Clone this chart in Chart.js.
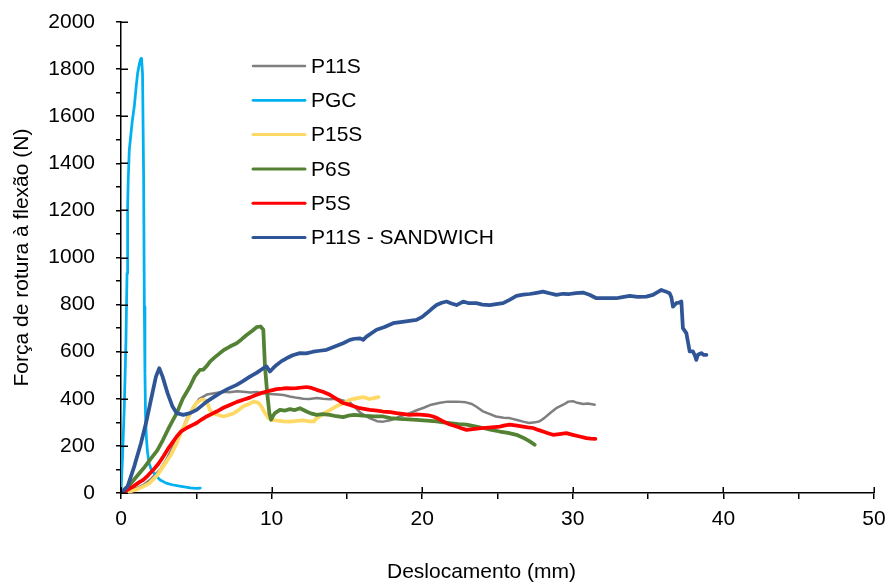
<!DOCTYPE html>
<html>
<head>
<meta charset="utf-8">
<title>Força de rotura à flexão vs deslocamento</title>
<script src="https://cdn.jsdelivr.net/npm/chart.js@4.4.1/dist/chart.umd.min.js"></script>
<style>
  html, body { margin: 0; padding: 0; background: #ffffff; }
  #wrap { width: 889px; height: 586px; }
</style>
</head>
<body>
<div id="wrap"><canvas id="chart" width="889" height="586"></canvas></div>
<script>
// Series names (legend order)
const seriesNames = ['P11S', 'PGC', 'P15S', 'P6S', 'P5S', 'P11S - SANDWICH'];

// Axis tick values
const xTicks = [0, 10, 20, 30, 40, 50];
const yTicks = [0, 200, 400, 600, 800, 1000, 1200, 1400, 1600, 1800, 2000];

// P11S — deslocamento (mm) / força (N)
const p11sX = [0, 0.5, 1.0, 1.5, 2.0, 2.6, 3.0, 3.5, 4.0, 4.4, 4.8, 5.2, 5.7, 6.3, 6.8, 7.2, 7.7, 8.1, 8.6, 9.0, 9.5, 9.9, 10.4, 10.8, 11.2, 11.7, 12.1, 12.5, 13.0, 13.4, 13.9, 14.3, 14.8, 15.2, 15.6, 15.9, 16.2, 16.5, 17.0, 17.4, 17.8, 18.1, 18.5, 19.0, 19.5, 20.1, 20.6, 21.2, 21.7, 22.3, 22.9, 23.3, 23.6, 24.0, 24.5, 24.9, 25.4, 25.8, 26.3, 26.7, 27.1, 27.5, 27.8, 28.1, 28.5, 28.9, 29.4, 29.7, 30.0, 30.3, 30.7, 31.0, 31.45];
const p11sY = [0, 8, 20, 35, 60, 100, 140, 205, 260, 320, 365, 400, 418, 425, 430, 428, 432, 430, 427, 429, 424, 420, 418, 416, 410, 404, 400, 399, 403, 400, 398, 400, 392, 385, 360, 340, 330, 318, 305, 303, 308, 313, 325, 335, 348, 362, 375, 383, 388, 388, 385, 378, 366, 348, 335, 325, 320, 318, 310, 303, 297, 300, 305, 318, 340, 360, 376, 388, 390, 383, 378, 380, 375];

// PGC
const pgcX = [0, 0.1, 0.22, 0.33, 0.40, 0.44, 0.48, 0.55, 0.62, 0.75, 0.88, 1.0, 1.10, 1.2, 1.28, 1.33, 1.37, 1.43, 1.50, 1.55, 1.59, 1.63, 1.68, 1.75, 1.85, 2.0, 2.3, 2.6, 3.0, 3.4, 3.9, 4.3, 4.6, 5.0, 5.26];
const pgcY = [0, 150, 367, 650, 933, 1215, 1329, 1456, 1500, 1580, 1640, 1720, 1781, 1815, 1838, 1845, 1840, 1781, 1357, 791, 509, 330, 240, 180, 130, 100, 75, 55, 42, 35, 29, 25, 22, 20, 21];

// P15S
const p15sX = [0, 0.5, 1.0, 1.5, 1.9, 2.4, 2.8, 3.3, 3.7, 4.0, 4.4, 4.7, 5.0, 5.3, 5.5, 5.7, 5.9, 6.1, 6.4, 6.8, 7.1, 7.5, 7.8, 8.1, 8.5, 8.8, 9.1, 9.3, 9.5, 9.8, 10.1, 10.4, 10.8, 11.2, 11.7, 12.1, 12.5, 12.8, 13.0, 13.4, 13.9, 14.3, 14.8, 15.2, 15.6, 16.1, 16.5, 16.8, 17.1];
const p15sY = [0, 5, 14, 28, 42, 75, 113, 160, 212, 260, 311, 350, 382, 395, 396, 388, 353, 338, 332, 325, 330, 339, 352, 367, 378, 388, 384, 370, 346, 318, 310, 307, 304, 303, 306, 308, 304, 304, 318, 335, 353, 368, 382, 396, 402, 407, 399, 403, 407];

// P6S
const p6sX = [0, 0.5, 1.04, 1.5, 1.92, 2.4, 2.79, 3.2, 3.7, 4.1, 4.58, 4.9, 5.24, 5.46, 5.7, 5.91, 6.2, 6.57, 6.9, 7.23, 7.68, 8.0, 8.34, 8.7, 9.0, 9.27, 9.45, 9.56, 9.7, 9.85, 9.96, 10.1, 10.22, 10.55, 10.9, 11.21, 11.55, 11.88, 12.32, 12.6, 12.99, 13.4, 13.87, 14.3, 14.75, 15.2, 15.5, 15.86, 16.3, 16.8, 17.4, 17.9, 18.5, 19.1, 19.62, 20.3, 20.95, 21.4, 21.83, 22.4, 22.94, 23.5, 24.04, 24.6, 25.15, 25.7, 26.26, 26.7, 27.14, 27.47];
const p6sY = [0, 30, 70, 105, 141, 180, 226, 280, 339, 400, 452, 495, 523, 524, 540, 558, 575, 594, 610, 622, 636, 652, 671, 688, 704, 707, 693, 537, 430, 340, 311, 328, 339, 353, 350, 356, 352, 360, 346, 338, 332, 335, 332, 326, 322, 330, 332, 330, 327, 325, 325, 318, 315, 313, 311, 307, 304, 300, 297, 293, 290, 283, 276, 268, 261, 255, 247, 235, 219, 205];

// P5S
const p5sX = [0, 0.4, 0.82, 1.2, 1.48, 1.8, 2.15, 2.5, 2.81, 3.2, 3.7, 4.0, 4.36, 4.7, 5.02, 5.35, 5.69, 6.0, 6.35, 6.8, 7.23, 7.7, 8.12, 8.55, 9.0, 9.3, 9.67, 10.0, 10.33, 10.7, 10.99, 11.3, 11.66, 12.0, 12.32, 12.65, 12.99, 13.4, 13.87, 14.3, 14.75, 15.2, 15.5, 15.86, 16.52, 17.0, 17.4, 17.9, 18.29, 18.7, 19.17, 19.6, 20.06, 20.4, 20.72, 21.05, 21.39, 21.8, 22.28, 22.6, 22.94, 23.5, 24.04, 24.6, 25.15, 25.5, 25.81, 26.3, 26.7, 27.0, 27.36, 27.7, 28.02, 28.35, 28.69, 29.1, 29.57, 30.0, 30.46, 30.9, 31.2, 31.5];
const p5sY = [0, 12, 28, 45, 56, 75, 99, 125, 155, 195, 240, 262, 276, 287, 297, 312, 325, 335, 346, 362, 374, 387, 396, 405, 417, 424, 431, 436, 441, 443, 445, 444, 445, 448, 450, 446, 438, 430, 417, 400, 382, 374, 367, 360, 353, 350, 346, 343, 339, 336, 332, 334, 332, 330, 325, 316, 304, 292, 282, 275, 268, 272, 276, 279, 282, 287, 290, 286, 282, 279, 276, 268, 261, 254, 247, 250, 254, 247, 240, 233, 231, 230];

// P11S - SANDWICH
const sandwichX = [0, 0.44, 0.88, 1.33, 1.66, 1.99, 2.32, 2.54, 2.76, 3.09, 3.42, 3.7, 4.13, 4.58, 5.02, 5.35, 5.69, 6.1, 6.57, 7.1, 7.68, 8.1, 8.56, 9.0, 9.45, 9.67, 9.89, 10.1, 10.33, 10.66, 10.99, 11.4, 11.88, 12.3, 12.76, 13.2, 13.65, 14.2, 14.75, 15.2, 15.5, 15.88, 16.08, 16.3, 16.97, 17.5, 18.07, 18.8, 19.62, 20.0, 20.29, 20.6, 20.95, 21.3, 21.61, 21.95, 22.28, 22.72, 23.1, 23.6, 24.0, 24.49, 24.9, 25.37, 25.8, 26.26, 26.7, 27.14, 27.6, 28.02, 28.45, 28.91, 29.35, 29.79, 30.2, 30.68, 31.1, 31.57, 32.2, 32.89, 33.3, 33.78, 34.3, 34.88, 35.32, 35.6, 35.88, 36.15, 36.43, 36.55, 36.65, 36.87, 37.05, 37.21, 37.31, 37.54, 37.65, 37.76, 37.98, 38.1, 38.2, 38.31, 38.53, 38.7, 38.87];
const sandwichY = [0, 28, 113, 212, 297, 396, 494, 530, 494, 424, 367, 339, 332, 339, 353, 370, 388, 405, 424, 442, 459, 475, 494, 510, 530, 537, 516, 530, 544, 560, 572, 585, 594, 593, 600, 604, 608, 622, 636, 650, 655, 657, 650, 664, 693, 705, 721, 728, 735, 748, 763, 780, 798, 808, 813, 805, 798, 813, 806, 806, 800, 798, 802, 806, 820, 837, 842, 845, 850, 855, 848, 841, 846, 845, 849, 851, 842, 827, 828, 827, 832, 837, 833, 834, 841, 852, 862, 856, 848, 830, 791, 806, 808, 813, 700, 679, 640, 601, 601, 585, 565, 587, 594, 586, 587];

// Line colours and widths, one per series
const seriesColors = ['#7f7f7f', '#00b0f0', '#ffd966', '#548235', '#ff0000', '#2f5597'];
const seriesWidths = [2.5, 2.75, 3.75, 3.75, 3.75, 3.75];

const seriesX = [p11sX, pgcX, p15sX, p6sX, p5sX, sandwichX];
const seriesY = [p11sY, pgcY, p15sY, p6sY, p5sY, sandwichY];

const FONT = '"Liberation Sans", Arial, sans-serif';

const datasets = seriesNames.map((name, i) => ({
  label: name,
  data: seriesX[i].map((x, k) => ({ x: x, y: seriesY[i][k] })),
  borderColor: seriesColors[i],
  backgroundColor: seriesColors[i],
  borderWidth: seriesWidths[i],
  pointRadius: 0,
  tension: 0,
  fill: false,
  borderJoinStyle: 'round',
  borderCapStyle: 'round',
  // later series drawn on top of earlier ones
  order: seriesNames.length - 1 - i
}));

// Major tick marks cross the axis line; this draws their inner half.
const crossingTicks = {
  id: 'crossingTicks',
  afterDatasetsDraw(chart) {
    const { ctx, chartArea, scales } = chart;
    ctx.save();
    ctx.strokeStyle = '#000';
    ctx.lineWidth = 1.5;
    ctx.beginPath();
    yTicks.forEach(v => {
      const py = Math.round(scales.y.getPixelForValue(v)) + 0.25;
      ctx.moveTo(chartArea.left, py);
      ctx.lineTo(chartArea.left + 7, py);
    });
    xTicks.forEach(v => {
      const px = Math.round(scales.x.getPixelForValue(v)) + 0.25;
      ctx.moveTo(px, chartArea.bottom);
      ctx.lineTo(px, chartArea.bottom - 6);
    });
    ctx.stroke();
    ctx.restore();
  }
};

// Legend drawn inside the plot area as a vertical list.
const insideLegend = {
  id: 'insideLegend',
  afterDraw(chart) {
    const { ctx, chartArea } = chart;
    const x0 = chartArea.left + 132;
    const x1 = x0 + 52;
    const tx = x1 + 6;
    const y0 = chartArea.top + 44;
    const dy = 34.3;
    ctx.save();
    ctx.font = '21px ' + FONT;
    ctx.textBaseline = 'middle';
    ctx.textAlign = 'left';
    ctx.fillStyle = '#000';
    chart.data.datasets.forEach((ds, i) => {
      const y = y0 + i * dy;
      ctx.strokeStyle = ds.borderColor;
      ctx.lineWidth = Math.min(ds.borderWidth, 3);
      ctx.lineCap = 'round';
      ctx.beginPath();
      ctx.moveTo(x0, y);
      ctx.lineTo(x1, y);
      ctx.stroke();
      ctx.fillText(ds.label, tx, y + 1);
    });
    ctx.restore();
  }
};

// Horizontal axis title
const xAxisTitle = {
  id: 'xAxisTitle',
  afterDraw(chart) {
    const { ctx, chartArea } = chart;
    ctx.save();
    ctx.font = '21px ' + FONT;
    ctx.fillStyle = '#000';
    ctx.textAlign = 'center';
    ctx.textBaseline = 'alphabetic';
    ctx.fillText('Deslocamento (mm)', (chartArea.left + chartArea.right) / 2 - 16, chartArea.bottom + 85);
    ctx.restore();
  }
};

Chart.defaults.font.family = FONT;
Chart.defaults.font.size = 21;
Chart.defaults.color = '#000';

new Chart(document.getElementById('chart'), {
  type: 'line',
  data: { datasets: datasets },
  options: {
    responsive: false,
    animation: false,
    devicePixelRatio: 1,
    events: [],
    layout: { padding: { top: 22, right: 15, left: 0, bottom: 0 } },
    plugins: {
      legend: { display: false },
      tooltip: { enabled: false }
    },
    scales: {
      x: {
        type: 'linear',
        min: 0,
        max: 50,
        ticks: {
          stepSize: 5,
          autoSkip: false,
          maxRotation: 0,
          padding: 8,
          callback: v => (xTicks.includes(v) ? String(v) : '')
        },
        grid: {
          drawOnChartArea: false,
          drawTicks: true,
          tickLength: 6,
          color: '#000',
          lineWidth: 1.5
        },
        border: { display: true, color: '#000', width: 1.5 },
        afterFit: s => { s.height = 93; s.paddingLeft = 0; s.paddingRight = 0; }
      },
      y: {
        type: 'linear',
        min: 0,
        max: 2000,
        ticks: {
          stepSize: 100,
          autoSkip: false,
          padding: 21,
          callback: v => (yTicks.includes(v) ? String(v) : '')
        },
        grid: {
          drawOnChartArea: false,
          drawTicks: true,
          tickLength: 5,
          color: '#000',
          lineWidth: 1.5
        },
        border: { display: true, color: '#000', width: 1.5 },
        title: {
          display: true,
          text: 'Força de rotura à flexão (N)',
          font: { size: 21 },
          padding: { top: 10, bottom: 0 }
        },
        afterFit: s => { s.width = 121; s.paddingTop = 0; s.paddingBottom = 0; }
      }
    }
  },
  plugins: [crossingTicks, insideLegend, xAxisTitle]
});
</script>
</body>
</html>
